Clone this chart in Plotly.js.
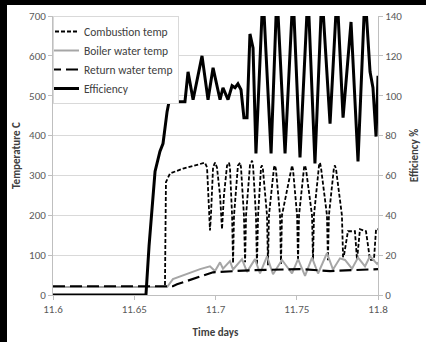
<!DOCTYPE html>
<html>
<head>
<meta charset="utf-8">
<script src="https://cdn.plot.ly/plotly-3.0.1.min.js"></script>
<style>
html,body{margin:0;padding:0;background:#000;}
#wrap{width:426px;height:342px;background:#000;position:relative;overflow:hidden;}
#chart{position:absolute;left:7px;top:5px;width:419px;height:337px;background:#fff;}
</style>
</head>
<body>
<div id="wrap"><div id="chart"></div></div>
<script>
// Efficiency % (right axis)
const effTime = [11.6000,11.6572,11.6591,11.6628,11.6658,11.6677,11.6702,11.6714,11.6812,11.6831,11.6862,11.6917,11.6954,11.6985,11.7028,11.7046,11.7077,11.7102,11.7120,11.7138,11.7157,11.7175,11.7194,11.7212,11.7231,11.7249,11.7292,11.7342,11.7378,11.7428,11.7477,11.7520,11.7569,11.7612,11.7655,11.7705,11.7748,11.7785,11.7834,11.7877,11.7920,11.7951,11.7969,11.7988,11.8000];
const effValues = [0,0,24.5,62,72,76,92,97,97,112,98,120,98,114,98,104,98,105,104,106,103,89,89,131,124,71,152,71,152,71,152,69,152,66,152,86,152,89,137,67,152,112,104,79.5,110];

// Combustion temp (left axis)
const combTime = [11.6000,11.6689,11.6695,11.6720,11.6800,11.6905,11.6935,11.6948,11.6960,11.6966,11.6972,11.6985,11.6997,11.7009,11.7028,11.7040,11.7052,11.7071,11.7083,11.7089,11.7102,11.7108,11.7114,11.7138,11.7151,11.7157,11.7175,11.7182,11.7188,11.7212,11.7225,11.7231,11.7249,11.7255,11.7262,11.7280,11.7286,11.7292,11.7317,11.7323,11.7329,11.7360,11.7366,11.7372,11.7397,11.7403,11.7409,11.7465,11.7471,11.7477,11.7502,11.7508,11.7514,11.7545,11.7551,11.7557,11.7594,11.7600,11.7606,11.7637,11.7643,11.7649,11.7686,11.7692,11.7698,11.7729,11.7735,11.7742,11.7778,11.7785,11.7791,11.7815,11.7858,11.7871,11.7889,11.7926,11.7951,11.7975,11.7988,11.8000];
const combValues = [20,20,283,305,317,328,332,320,200,162,200,320,332,320,250,165,250,325,332,320,200,80,200,325,332,320,200,82,200,325,337,325,200,75,200,320,325,315,200,75,200,320,325,315,200,78,200,320,325,315,200,85,200,320,325,315,200,88,200,325,332,320,200,87,200,320,325,315,200,95,100,160,160,88,165,160,88,88,165,165];

// Boiler water temp (left axis)
const boilTime = [11.6000,11.6702,11.6738,11.6800,11.6905,11.6966,11.6997,11.7028,11.7046,11.7089,11.7108,11.7163,11.7194,11.7243,11.7274,11.7317,11.7354,11.7409,11.7471,11.7508,11.7551,11.7594,11.7631,11.7686,11.7723,11.7766,11.7797,11.7840,11.7877,11.7920,11.7951,11.7994,11.8000];
const boilValues = [20,20,40,50,65,72,60,82,66,85,64,90,58,90,54,97,52,88,54,90,48,94,54,105,64,92,88,66,94,72,97,78,82];

// Return water temp (left axis)
const retTime = [11.6000,11.6738,11.6763,11.6985,11.7212,11.7520,11.7705,11.8000];
const retValues = [22,22,27,57,62,65,60,65];

const xTicks = [11.6,11.65,11.7,11.75,11.8];
const xTickText = ['11.6','11.65','11.7','11.75','11.8'];
const yTicks = [0,100,200,300,400,500,600,700];
const y2Ticks = [0,20,40,60,80,100,120,140];

const font = 'Carlito, Lato, "Open Sans", sans-serif';

const traces = [
  {x: combTime, y: combValues, name: 'Combustion temp', type: 'scatter', mode: 'lines',
   line: {color: '#000', width: 1.8, dash: '4px,2px'}},
  {x: boilTime, y: boilValues, name: 'Boiler water temp', type: 'scatter', mode: 'lines',
   line: {color: '#a6a6a6', width: 2}},
  {x: retTime, y: retValues, name: 'Return water temp', type: 'scatter', mode: 'lines',
   line: {color: '#000', width: 2.2, dash: '12px,5px'}},
  {x: effTime, y: effValues, name: 'Efficiency', type: 'scatter', mode: 'lines', yaxis: 'y2',
   line: {color: '#000', width: 3}}
];

const layout = {
  width: 419, height: 337,
  margin: {l: 46, r: 48, t: 11, b: 47},
  paper_bgcolor: '#fff', plot_bgcolor: '#fff',
  font: {family: font, size: 11, color: '#595959'},
  showlegend: true,
  legend: {x: 0, y: 1, xanchor: 'left', yanchor: 'top', bgcolor: '#fff',
    bordercolor: '#d9d9d9', borderwidth: 1, font: {family: font, size: 11.5, color: '#404040'},
    tracegroupgap: 0, itemwidth: 30, indentation: -10},
  xaxis: {range: [11.6, 11.8], tickvals: xTicks, ticktext: xTickText, showgrid: false,
    zeroline: false, showline: true, linecolor: '#bfbfbf', ticks: 'outside', ticklen: 4,
    tickcolor: '#bfbfbf', tickfont: {size: 11, color: '#595959'},
    title: {text: '<b>Time days</b>', font: {size: 11, color: '#404040'}, standoff: 13}},
  yaxis: {range: [0, 700], tickvals: yTicks, showgrid: true, gridcolor: '#d9d9d9',
    zeroline: false, showline: true, linecolor: '#bfbfbf', ticks: 'outside', ticklen: 4,
    tickcolor: '#bfbfbf', tickfont: {size: 11, color: '#595959'},
    title: {text: '<b>Temperature C</b>', font: {size: 11, color: '#404040'}, standoff: 6}},
  yaxis2: {range: [0, 140], tickvals: y2Ticks, overlaying: 'y', side: 'right', showgrid: false,
    zeroline: false, showline: true, linecolor: '#bfbfbf', ticks: 'outside', ticklen: 4,
    tickcolor: '#bfbfbf', tickfont: {size: 11, color: '#595959'},
    title: {text: '<b>Efficiency %</b>', font: {size: 11, color: '#404040'}, standoff: 8}}
};

Plotly.newPlot('chart', traces, layout, {displayModeBar: false, staticPlot: true});
</script>
</body>
</html>
